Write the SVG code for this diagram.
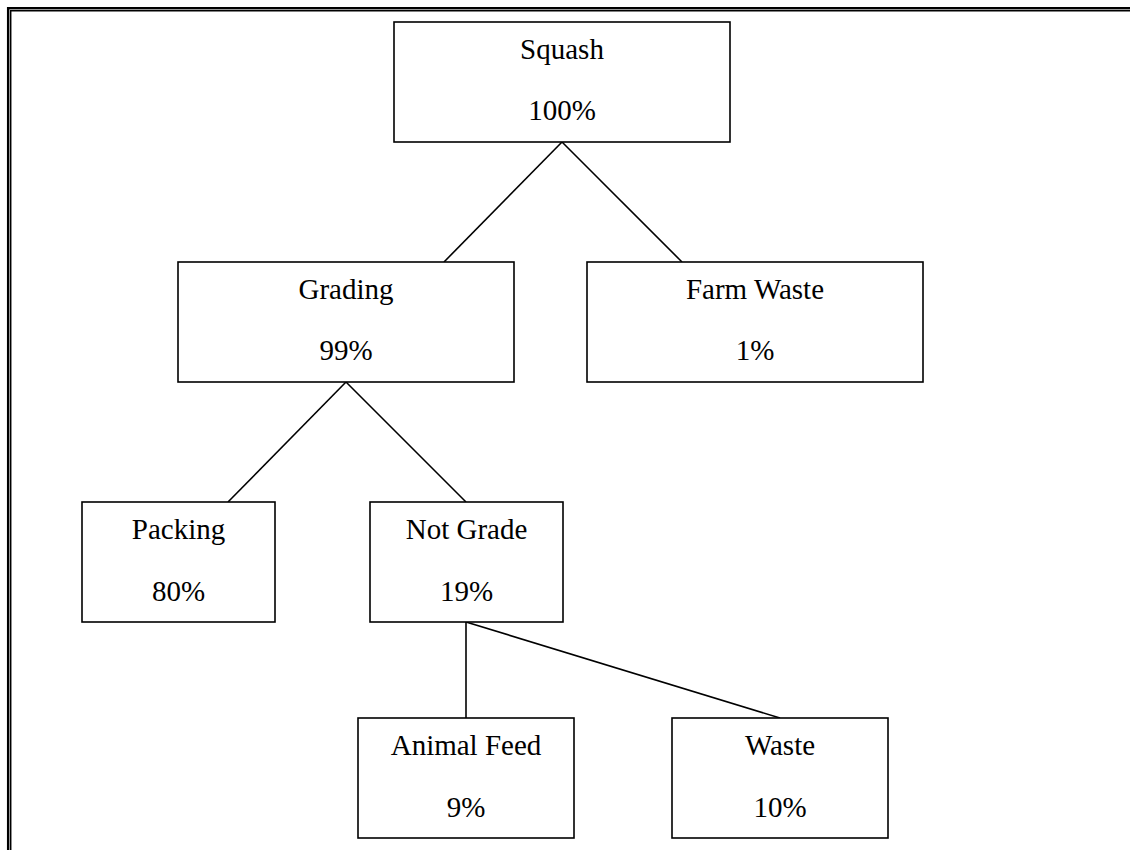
<svg xmlns="http://www.w3.org/2000/svg" width="1130" height="850" viewBox="0 0 1130 850">
<style>
.box{fill:#fff;stroke:#000;stroke-width:1.6}
.t{font-family:"Liberation Serif","Times New Roman",serif;font-size:29px;fill:#000;text-anchor:middle}
.c{stroke:#000;stroke-width:1.6;fill:none}
</style>
<rect width="1130" height="850" fill="#fff"/>
<g id="frame">
<path d="M9.2,850 V9.2 H1130" fill="none" stroke="#000" stroke-width="4.5"/>
<path d="M9.5,850 V9.5 H1130" fill="none" stroke="#999" stroke-width="1"/>
</g>
<g id="connectors">
<line class="c" x1="562" y1="142" x2="444" y2="262"/>
<line class="c" x1="562" y1="142" x2="682" y2="262"/>
<line class="c" x1="346" y1="382" x2="228" y2="502"/>
<line class="c" x1="346" y1="382" x2="466" y2="502"/>
<line class="c" x1="466" y1="622" x2="466" y2="718"/>
<line class="c" x1="466" y1="622" x2="780" y2="718"/>
</g>
<g id="squash">
<rect class="box" x="394" y="22" width="336" height="120"/>
<text class="t" x="562" y="59">Squash</text>
<text class="t" x="562" y="120">100%</text>
</g>
<g id="grading">
<rect class="box" x="178" y="262" width="336" height="120"/>
<text class="t" x="346" y="299">Grading</text>
<text class="t" x="346" y="360">99%</text>
</g>
<g id="farmwaste">
<rect class="box" x="587" y="262" width="336" height="120"/>
<text class="t" x="755" y="299">Farm Waste</text>
<text class="t" x="755" y="360">1%</text>
</g>
<g id="packing">
<rect class="box" x="82" y="502" width="193" height="120"/>
<text class="t" x="178.5" y="539">Packing</text>
<text class="t" x="178.5" y="601">80%</text>
</g>
<g id="notgrade">
<rect class="box" x="370" y="502" width="193" height="120"/>
<text class="t" x="466.5" y="539">Not Grade</text>
<text class="t" x="466.5" y="601">19%</text>
</g>
<g id="animalfeed">
<rect class="box" x="358" y="718" width="216" height="120"/>
<text class="t" x="466" y="755">Animal Feed</text>
<text class="t" x="466" y="817">9%</text>
</g>
<g id="waste">
<rect class="box" x="672" y="718" width="216" height="120"/>
<text class="t" x="780" y="755">Waste</text>
<text class="t" x="780" y="817">10%</text>
</g>
</svg>
